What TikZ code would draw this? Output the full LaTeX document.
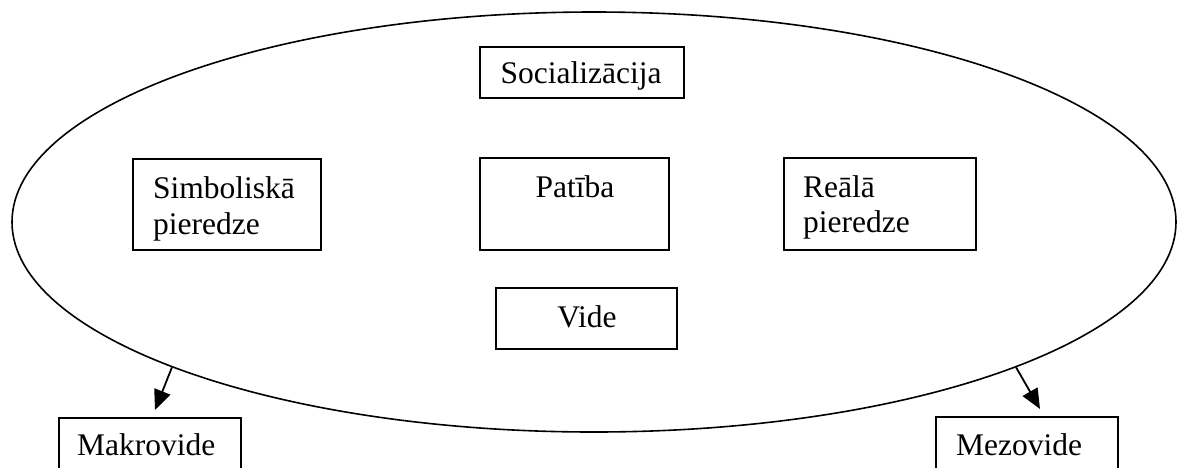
\documentclass[tikz,border=0pt]{standalone}
\usepackage{fontspec}
\setmainfont{Liberation Serif}
\usetikzlibrary{shapes.geometric,arrows.meta}
\begin{document}
\begin{tikzpicture}[x=1pt,y=-1pt,
  boxnode/.style={draw,line width=1.6pt,inner sep=0pt,anchor=north west},
  txt/.style={font=\fontsize{31.5}{38}\selectfont,inner sep=0pt},
  arr/.style={line width=1.8pt,-{Triangle[length=20pt,width=17pt]}}]
\useasboundingbox (0,0) rectangle (1182,467);
\clip (0,0) rectangle (1182,467);
% outer ellipse
\node[draw,ellipse,line width=1.6pt,inner sep=0pt,minimum width=1164pt,minimum height=420pt] (ell) at (594,222) {};
% boxes
\node[boxnode,minimum width=204pt,minimum height=51pt] (soc) at (479,46) {};
\node[boxnode,minimum width=188pt,minimum height=91pt] (simb) at (132,158) {};
\node[boxnode,minimum width=189pt,minimum height=92pt] (pat) at (479,157) {};
\node[boxnode,minimum width=192pt,minimum height=92pt] (real) at (783,157) {};
\node[boxnode,minimum width=181pt,minimum height=61pt] (vide) at (495,287) {};
\node[boxnode,minimum width=182pt,minimum height=80pt] (makro) at (58,417) {};
\node[boxnode,minimum width=182pt,minimum height=80pt] (mezo) at (935,416) {};
% texts
\node[txt,anchor=base] (socT) at (581,83) {Socializācija};
\node[txt,anchor=base west] (simbT1) at (153,198) {Simboliskā};
\node[txt,anchor=base west] (simbT2) at (153,234) {pieredze};
\node[txt,anchor=base] (patT) at (575,197) {Patība};
\node[txt,anchor=base west] (realT1) at (803,197) {Reālā};
\node[txt,anchor=base west] (realT2) at (803,232) {pieredze};
\node[txt,anchor=base] (videT) at (587,327) {Vide};
\node[txt,anchor=base west] (makroT) at (77,455) {Makrovide};
\node[txt,anchor=base west] (mezoT) at (956,455) {Mezovide};
% arrows
\coordinate (mktip) at (155,410);
\coordinate (mztip) at (1040,409);
\draw[arr] (ell.199) -- (mktip);
\draw[arr] (ell.341) -- (mztip);
\end{tikzpicture}
\end{document}
